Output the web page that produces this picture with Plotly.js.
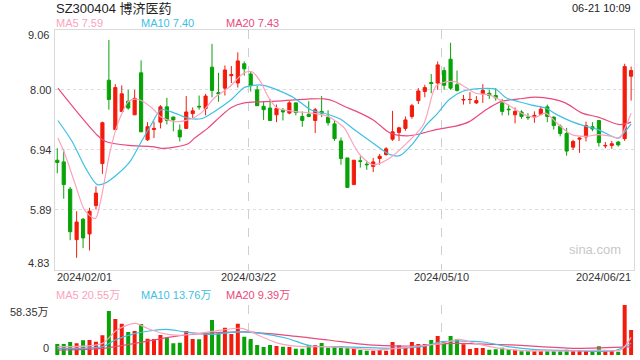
<!DOCTYPE html>
<html><head><meta charset="utf-8">
<script src="https://cdn.plot.ly/plotly-3.0.1.min.js"></script>
<style>html,body{margin:0;padding:0;background:#fff}#chart{width:640px;height:360px}</style>
</head><body><div id="chart"></div>
<script>
// ---- data (SZ300404, daily, 2024/02/01 - 2024/06/21) ----
const openP  = [6.76,6.73,6.25,5.36,5.72,5.46,5.96,6.70,8.17,7.30,7.62,7.80,7.56,8.30,7.12,7.30,7.43,7.70,7.52,7.29,
                7.32,7.58,7.71,7.67,8.40,7.95,8.03,8.25,8.12,8.46,8.28,8.00,7.71,7.68,7.56,7.64,7.59,7.77,7.53,7.57,
                7.46,7.62,7.52,7.40,7.10,6.80,6.33,6.75,6.69,6.65,6.79,6.86,7.13,7.25,7.32,7.53,7.81,7.97,8.13,8.12,
                8.34,8.54,8.09,7.82,7.83,7.77,7.93,7.94,7.90,7.77,7.66,7.56,7.61,7.52,7.52,7.57,7.70,7.52,7.36,7.23,
                6.99,7.13,7.17,7.35,7.46,7.01,7.02,7.08,7.14,8.24];
const highP  = [6.97,6.95,6.29,5.86,5.74,5.92,6.30,7.44,8.88,8.10,8.08,8.00,8.00,8.52,7.43,7.44,7.73,7.86,7.53,7.39,
                7.89,7.69,7.90,7.93,8.81,8.30,8.43,8.42,8.66,8.50,8.33,8.07,7.80,7.84,7.74,7.68,7.80,7.78,7.62,7.80,
                7.68,7.89,7.64,7.46,7.16,6.80,6.76,6.83,6.75,6.80,6.87,6.99,7.63,7.35,7.53,7.75,8.03,8.09,8.28,8.50,
                8.40,8.83,8.34,7.91,7.96,7.89,8.10,8.00,8.03,7.84,7.74,7.69,7.64,7.59,7.62,7.71,7.74,7.53,7.39,7.33,
                7.12,7.16,7.44,7.43,7.46,7.08,7.10,7.10,8.46,8.41];
const lowP   = [6.53,6.08,5.35,5.04,5.21,5.17,5.89,6.52,7.65,7.30,7.62,7.65,7.56,7.26,7.10,7.15,7.32,7.39,7.27,7.09,
                7.32,7.50,7.65,7.55,7.87,7.79,7.90,8.12,8.04,8.25,7.97,7.72,7.47,7.46,7.43,7.46,7.57,7.55,7.35,7.52,
                7.24,7.52,7.37,7.10,6.68,6.27,6.33,6.63,6.59,6.55,6.68,6.84,7.10,7.10,7.28,7.49,7.75,7.87,7.94,8.00,
                8.00,8.00,7.97,7.74,7.75,7.75,7.77,7.84,7.81,7.55,7.55,7.41,7.49,7.47,7.42,7.55,7.43,7.30,7.18,6.84,
                6.94,6.89,7.09,7.27,7.00,6.97,6.96,7.00,7.10,7.81];
const closeP = [6.72,6.33,5.50,5.67,5.39,5.86,6.18,7.42,7.83,8.04,7.93,7.68,7.85,7.26,7.35,7.32,7.70,7.46,7.47,7.17,
                7.61,7.63,7.70,7.89,7.99,7.93,8.35,8.27,8.51,8.37,8.08,7.72,7.65,7.46,7.67,7.61,7.77,7.60,7.46,7.53,
                7.65,7.59,7.42,7.14,6.79,6.28,6.76,6.74,6.68,6.73,6.83,6.96,7.26,7.33,7.47,7.72,7.98,8.04,8.11,8.44,
                8.08,8.03,7.99,7.83,7.83,7.81,7.99,7.90,7.86,7.62,7.65,7.62,7.53,7.51,7.55,7.66,7.53,7.37,7.23,6.92,
                7.09,7.15,7.37,7.31,7.07,7.02,7.05,7.03,8.41,8.34];
// volume, in 万 (10k shares)
const volume = [12.8,12.8,15.2,13.6,17.1,17.5,15.6,23.0,51.3,42.0,36.6,26.8,28.0,36.2,19.0,18.7,23.3,20.2,13.6,14.4,
                28.0,18.7,18.3,25.7,40.8,25.3,31.9,24.5,36.6,21.4,18.7,11.7,9.3,11.7,10.5,9.7,9.3,7.4,7.4,11.7,
                11.3,14.0,8.6,9.7,10.1,8.9,8.6,5.8,5.1,5.1,5.8,5.1,15.2,11.3,9.3,15.2,12.8,12.8,17.5,22.2,
                15.2,22.2,18.7,12.4,7.0,8.2,8.2,6.2,6.6,8.6,6.2,6.2,4.3,4.3,4.3,4.3,4.3,4.3,4.3,6.2,
                4.7,5.8,5.8,5.8,10.1,5.8,5.4,3.9,58.35,29.2];
// price moving averages, sampled along the drawn lines: [candle index, value]
const ma5X  = [0.1,1.2,2.8,4.3,5.9,6.7,8.2,9.5,11.1,12.6,14.7,16.1,18.2,20.3,22.3,24.4,26.5,29.0,30.2,31.5,32.8,34.1,36.7,39.4,42.0,44.5,45.4,46.9,49.0,51.6,54.2,56.8,58.7,60.3,61.8,63.4,64.9,67.0,69.0,71.1,72.7,74.2,75.7,77.7,79.8,81.9,84.0,86.0,87.2,88.3,89.0];
const ma5Y  = [7.15,6.86,6.33,5.87,5.73,6.03,6.92,7.44,7.80,7.83,7.68,7.52,7.44,7.47,7.59,7.86,8.03,8.30,8.32,8.15,7.86,7.68,7.62,7.59,7.53,7.33,7.15,6.86,6.68,6.80,7.06,7.39,8.06,8.14,8.14,8.04,7.94,7.91,7.80,7.65,7.55,7.52,7.59,7.39,7.21,7.18,7.21,7.18,7.15,7.39,7.59];
const ma10X = [0.1,2.3,4.4,6.2,7.5,9.5,11.3,12.9,14.4,16.1,18.2,20.3,22.3,24.4,27.0,29.0,30.5,32.0,34.1,36.7,39.3,41.9,43.8,46.4,49.0,51.6,53.1,55.2,57.3,58.7,60.8,62.8,65.4,68.0,69.6,71.6,73.6,75.7,77.7,79.8,81.9,83.9,86.9,88.1,89.0];
const ma10Y = [7.46,7.09,6.62,6.33,6.36,6.53,6.74,7.06,7.35,7.65,7.59,7.50,7.49,7.62,7.83,8.04,8.08,8.08,8.00,7.86,7.65,7.57,7.49,7.27,7.06,6.86,6.84,7.06,7.39,7.55,7.83,7.97,8.02,8.01,7.86,7.79,7.73,7.68,7.55,7.44,7.36,7.30,7.15,7.27,7.40];
const ma20X = [0.1,3.0,6.2,7.5,11.1,14.7,16.1,18.2,20.3,21.3,23.4,25.2,27.0,29.0,34.1,39.3,41.4,42.9,44.5,46.4,49.0,51.6,54.2,56.8,58.7,61.8,63.9,66.5,69.0,71.6,74.2,76.7,78.8,81.4,83.9,87.0,88.1,89.0];
const ma20Y = [8.03,7.62,7.20,7.09,7.02,7.00,6.97,6.99,7.05,7.15,7.33,7.52,7.69,7.77,7.80,7.84,7.84,7.80,7.71,7.62,7.47,7.24,7.19,7.24,7.30,7.36,7.44,7.65,7.80,7.84,7.87,7.84,7.77,7.59,7.52,7.39,7.40,7.43];
// volume moving averages (万), sampled
const vma5X  = [0,7,9.2,12.1,14,16.5,19,21.6,25.4,28.6,31.8,34.3,38.1,42,45.8,49.6,52.8,56,59.7,62.3,64.8,68.6,72.4,76.3,80,83.9,87.4,89];
const vma5Y  = [9.7,13.6,29,37,31,25,23,25,29,31,21,13.6,9.7,9.7,7.8,5.8,7.8,10.5,13.6,18.3,13.6,7.8,5,4.7,4.7,5.8,5.8,20.55];
const vma10X = [0,7,9,12,17,19.7,24,28,31.8,35.6,39.4,43.2,48.3,52.1,56.6,59.7,66,69.9,73.7,80,86.4,89];
const vma10Y = [7.8,9.7,17.5,25,30,27,24,27,25,19.5,10.5,9.7,8.6,7.8,9.7,15.6,15.2,9.7,6.6,5,5,13.76];
const vma20X = [0,7,12.1,17.2,21.6,29.2,35.6,42,48.3,54.7,61,70.5,80,89];
const vma20Y = [5.8,7.8,13.6,20.6,24.5,27,23,17.5,11.7,10.5,13.6,11.7,7.8,9.39];
const volMax = 58.35;
const yTicks = [9.06, 8.00, 6.94, 5.89, 4.83];
const dateLabels = ['2024/02/01', '2024/03/22', '2024/05/10', '2024/06/21'];
const legendPrice = ['MA5 7.59', 'MA10 7.40', 'MA20 7.43'];
const legendVol = ['MA5 20.55万', 'MA10 13.76万', 'MA20 9.39万'];

// ---- styles ----
const RED = '#f31b0b', GREEN = '#07a307';
const C5 = '#fba3bd', C10 = '#3ec0e3', C20 = '#ea4a7d';
const FONT = 'Liberation Sans, Arial, Noto Sans CJK SC, sans-serif';
const W = 640, H = 360;
const px = v => v / W, py = v => 1 - v / H;

const idx = openP.map((_, i) => i);
const volColors = idx.map(i => closeP[i] >= openP[i] ? RED : GREEN);

const line = (x, y, c, xa, ya) => ({type: 'scatter', mode: 'lines', x, y, xaxis: xa, yaxis: ya,
  line: {color: c, width: 1.2, shape: 'spline', smoothing: 0.8}, hoverinfo: 'skip'});

const traces = [
  {type: 'candlestick', x: idx, open: openP, high: highP, low: lowP, close: closeP,
   xaxis: 'x', yaxis: 'y', whiskerwidth: 0,
   increasing: {line: {color: RED, width: 1}, fillcolor: RED},
   decreasing: {line: {color: GREEN, width: 1}, fillcolor: GREEN}, hoverinfo: 'skip'},
  line(ma20X, ma20Y, C20, 'x', 'y'),
  line(ma10X, ma10Y, C10, 'x', 'y'),
  line(ma5X, ma5Y, C5, 'x', 'y'),
  {type: 'bar', x: idx, y: volume, xaxis: 'x2', yaxis: 'y2', width: 0.62,
   marker: {color: volColors, line: {width: 0}}, hoverinfo: 'skip'},
  line(vma20X, vma20Y, C20, 'x2', 'y2'),
  line(vma10X, vma10Y, C10, 'x2', 'y2'),
  line(vma5X, vma5Y, C5, 'x2', 'y2'),
];

const xDom = [px(54.7), px(633.7)];
const xRange = [-0.4, 89.4];
const gridX = [29.6, 59.6];
const ann = [];
const txt = (text, x, y, opts = {}) => ann.push(Object.assign({text, x, y, xref: 'paper', yref: 'paper',
  showarrow: false, xanchor: 'left', yanchor: 'middle',
  font: {family: FONT, size: 11, color: '#333'}}, opts));

txt('SZ300404 博济医药', px(54), py(8), {font: {family: FONT, size: 13, color: '#222'}});
txt('06-21 10:09', px(633), py(8), {xanchor: 'right', font: {family: FONT, size: 11, color: '#222'}});
[C5, C10, C20].forEach((c, i) => {
  txt(legendPrice[i], px([54, 139, 224][i]), py(23), {font: {family: FONT, size: 11, color: c}});
  txt(legendVol[i], px([54, 139, 224][i]), py(295), {font: {family: FONT, size: 11, color: c}});
});
txt(yTicks[0].toFixed(2), px(51), py(35), {xanchor: 'right'});
txt(yTicks[4].toFixed(2), px(51), py(263), {xanchor: 'right'});
txt(volMax.toFixed(2) + '万', px(51), py(312), {xanchor: 'right'});
txt('0', px(51), py(348), {xanchor: 'right'});
txt(dateLabels[0], px(55), py(277));
txt(dateLabels[1], gridX[0], py(277), {xref: 'x', xanchor: 'center'});
txt(dateLabels[2], gridX[1], py(277), {xref: 'x', xanchor: 'center'});
txt(dateLabels[3], px(633), py(277), {xanchor: 'right'});
txt('sina.com', px(623), py(249), {xanchor: 'right', font: {family: FONT, size: 13, color: '#c8c8c8'}});

const layout = {
  width: W, height: H, margin: {l: 0, r: 0, t: 0, b: 0},
  paper_bgcolor: '#fff', plot_bgcolor: '#fff', showlegend: false,
  xaxis: {domain: xDom, range: xRange, anchor: 'y', tickvals: gridX, showticklabels: false, ticks: '',
          showgrid: true, gridcolor: '#cfcfcf', griddash: 'dash', gridwidth: 1, zeroline: false,
          showline: true, mirror: true, linecolor: '#dadada', rangeslider: {visible: false}, fixedrange: true},
  yaxis: {domain: [py(269.7), py(29.7)], range: [yTicks[4], yTicks[0]], anchor: 'x',
          tickvals: [8.0025, 6.945, 5.8875], ticktext: yTicks.slice(1, 4).map(v => v.toFixed(2)),
          tickfont: {family: FONT, size: 11, color: '#333'}, ticks: '',
          showgrid: true, gridcolor: '#dcdcdc', griddash: 'dot', zeroline: false,
          showline: true, mirror: true, linecolor: '#dadada', fixedrange: true},
  xaxis2: {domain: xDom, range: xRange, anchor: 'y2', tickvals: gridX, showticklabels: false, ticks: '',
           showgrid: true, gridcolor: '#cfcfcf', griddash: 'dash', zeroline: false, showline: false, fixedrange: true},
  yaxis2: {domain: [py(355), py(305)], range: [0, volMax], anchor: 'x2', tickvals: [0, volMax],
           showticklabels: false, ticks: '', showgrid: true, gridcolor: '#d6d6d6', griddash: 'dot',
           zeroline: false, showline: false, fixedrange: true},
  bargap: 0.3,
  annotations: ann,
};
Plotly.newPlot('chart', traces, layout, {staticPlot: true, displayModeBar: false});
</script>
</body></html>
